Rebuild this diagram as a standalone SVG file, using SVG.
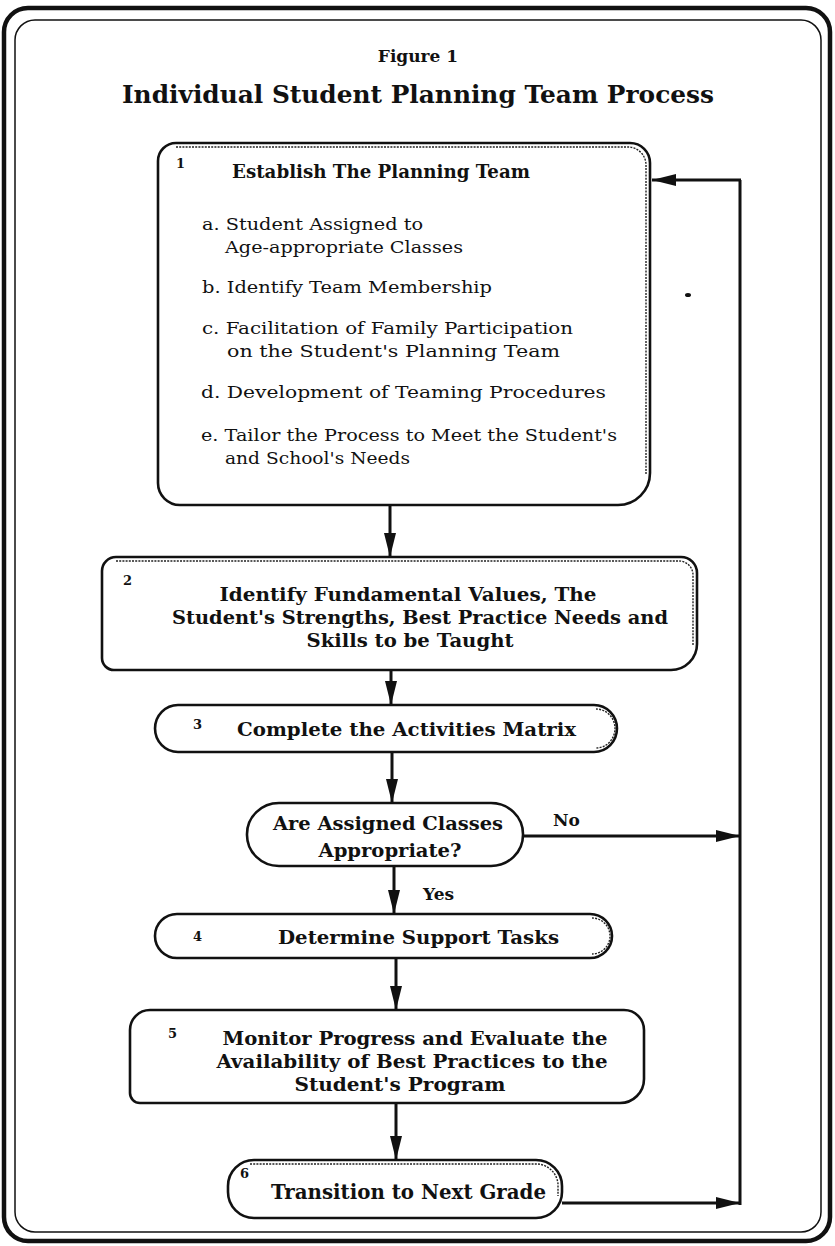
<svg xmlns="http://www.w3.org/2000/svg" width="835" height="1246" viewBox="0 0 835 1246">
<defs>
<style>
.b{font-family:"DejaVu Serif","Liberation Serif",serif;font-weight:bold;fill:#111}
.r{font-family:"DejaVu Serif","Liberation Serif",serif;font-weight:normal;fill:#111;font-size:17px}
.n{font-family:"DejaVu Serif","Liberation Serif",serif;font-weight:bold;fill:#111;font-size:13px}
.box{fill:#fff;stroke:#111;stroke-width:2.6}
.dec{fill:none;stroke:#222;stroke-width:1.4;stroke-dasharray:2 1.2}
.ln{fill:none;stroke:#111;stroke-width:3}
</style>
<marker id="ah" viewBox="0 0 24 14" refX="24" refY="7" markerWidth="24" markerHeight="14" markerUnits="userSpaceOnUse" orient="auto">
<path d="M0,1 L24,7 L0,13 Z" fill="#111"/>
</marker>
</defs>
<rect width="835" height="1246" fill="#fff"/>
<g id="frame">
<rect x="4" y="8" width="826" height="1233" rx="24" fill="none" stroke="#111" stroke-width="4.5"/>
<rect x="15" y="20" width="806" height="1212" rx="20" fill="none" stroke="#111" stroke-width="1.5"/>
</g>
<g id="title">
<text class="b" x="418" y="62" font-size="17" text-anchor="middle">Figure 1</text>
<text class="b" x="418" y="103" font-size="24" text-anchor="middle" textLength="592" lengthAdjust="spacingAndGlyphs">Individual Student Planning Team Process</text>
</g>
<g id="connectors">
<path class="ln" d="M390 505 V557" marker-end="url(#ah)"/>
<path class="ln" d="M391 670 V705" marker-end="url(#ah)"/>
<path class="ln" d="M392 752 V803" marker-end="url(#ah)"/>
<path class="ln" d="M394 866 V914" marker-end="url(#ah)"/>
<path class="ln" d="M396 958 V1010" marker-end="url(#ah)"/>
<path class="ln" d="M396 1103 V1160" marker-end="url(#ah)"/>
<path class="ln" d="M523 836 H740" marker-end="url(#ah)"/>
<path class="ln" d="M562 1203 H740" marker-end="url(#ah)"/>
<path class="ln" d="M740 1205 V180"/>
<path class="ln" d="M741 180 H652" marker-end="url(#ah)"/>
<text class="b" x="553" y="826" font-size="17">No</text>
<text class="b" x="423" y="900" font-size="17">Yes</text>
<ellipse cx="688" cy="295" rx="3" ry="2" fill="#111"/>
</g>
<g id="node1">
<path class="box" d="M176 143 H630 A20 20 0 0 1 650 163 V473 A32 32 0 0 1 618 505 H180 A22 22 0 0 1 158 483 V161 A18 18 0 0 1 176 143 Z"/>
<path class="dec" d="M176 147 H628 A18 18 0 0 1 646 165 V475"/>
<text class="n" x="176" y="168">1</text>
<text class="b" x="232" y="178" font-size="19" textLength="298" lengthAdjust="spacingAndGlyphs">Establish The Planning Team</text>
<text class="r" x="202" y="230" textLength="221" lengthAdjust="spacingAndGlyphs">a. Student Assigned to</text>
<text class="r" x="225" y="253" textLength="238" lengthAdjust="spacingAndGlyphs">Age-appropriate Classes</text>
<text class="r" x="202" y="293" textLength="290" lengthAdjust="spacingAndGlyphs">b. Identify Team Membership</text>
<text class="r" x="202" y="334" textLength="371" lengthAdjust="spacingAndGlyphs">c. Facilitation of Family Participation</text>
<text class="r" x="227" y="357" textLength="333" lengthAdjust="spacingAndGlyphs">on the Student's Planning Team</text>
<text class="r" x="201" y="398" textLength="405" lengthAdjust="spacingAndGlyphs">d. Development of Teaming Procedures</text>
<text class="r" x="201" y="441" textLength="416" lengthAdjust="spacingAndGlyphs">e. Tailor the Process to Meet the Student's</text>
<text class="r" x="225" y="464" textLength="185" lengthAdjust="spacingAndGlyphs">and School's Needs</text>
</g>
<g id="node2">
<path class="box" d="M116 557 H681 A16 16 0 0 1 697 573 V644 A26 26 0 0 1 671 670 H114 A12 12 0 0 1 102 658 V571 A14 14 0 0 1 116 557 Z"/>
<path class="dec" d="M116 561 H679 A14 14 0 0 1 693 575 V646"/>
<text class="n" x="123" y="585">2</text>
<text class="b" x="408" y="601" font-size="19" text-anchor="middle" textLength="377" lengthAdjust="spacingAndGlyphs">Identify Fundamental Values, The</text>
<text class="b" x="420" y="624" font-size="19" text-anchor="middle" textLength="496" lengthAdjust="spacingAndGlyphs">Student's Strengths, Best Practice Needs and</text>
<text class="b" x="410" y="647" font-size="19" text-anchor="middle" textLength="207" lengthAdjust="spacingAndGlyphs">Skills to be Taught</text>
</g>
<g id="node3">
<path class="box" d="M178 705 H594 A23 23.5 0 0 1 594 752 H178 A23 23.5 0 0 1 178 705 Z"/>
<path class="dec" d="M596 709 A19 19.5 0 0 1 596 748"/>
<text class="n" x="193" y="729">3</text>
<text class="b" x="237" y="736" font-size="19" textLength="339" lengthAdjust="spacingAndGlyphs">Complete the Activities Matrix</text>
</g>
<g id="decision">
<rect class="box" x="247" y="803" width="276" height="63" rx="32" ry="31"/>
<text class="b" x="388" y="830" font-size="19" text-anchor="middle" textLength="230" lengthAdjust="spacingAndGlyphs">Are Assigned Classes</text>
<text class="b" x="390" y="857" font-size="19" text-anchor="middle" textLength="143" lengthAdjust="spacingAndGlyphs">Appropriate?</text>
</g>
<g id="node4">
<path class="box" d="M177 914 H590 A22 22 0 0 1 590 958 H177 A22 22 0 0 1 177 914 Z"/>
<path class="dec" d="M592 918 A18 18 0 0 1 592 954"/>
<text class="n" x="193" y="941">4</text>
<text class="b" x="278" y="944" font-size="19" textLength="281" lengthAdjust="spacingAndGlyphs">Determine Support Tasks</text>
</g>
<g id="node5">
<path class="box" d="M150 1010 H624 A20 20 0 0 1 644 1030 V1079 A24 24 0 0 1 620 1103 H140 A10 10 0 0 1 130 1093 V1030 A20 20 0 0 1 150 1010 Z" stroke-width="3"/>
<text class="n" x="168" y="1038">5</text>
<text class="b" x="415" y="1045" font-size="19" text-anchor="middle" textLength="385" lengthAdjust="spacingAndGlyphs">Monitor Progress and Evaluate the</text>
<text class="b" x="412" y="1068" font-size="19" text-anchor="middle" textLength="391" lengthAdjust="spacingAndGlyphs">Availability of Best Practices to the</text>
<text class="b" x="400" y="1091" font-size="19" text-anchor="middle" textLength="211" lengthAdjust="spacingAndGlyphs">Student's Program</text>
</g>
<g id="node6">
<rect class="box" x="228" y="1160" width="334" height="58" rx="26"/>
<path class="dec" d="M250 1164 H538 A22 22 0 0 1 558 1184 V1196"/>
<text class="n" x="240" y="1178">6</text>
<text class="b" x="271" y="1199" font-size="20" textLength="275" lengthAdjust="spacingAndGlyphs">Transition to Next Grade</text>
</g>
</svg>
